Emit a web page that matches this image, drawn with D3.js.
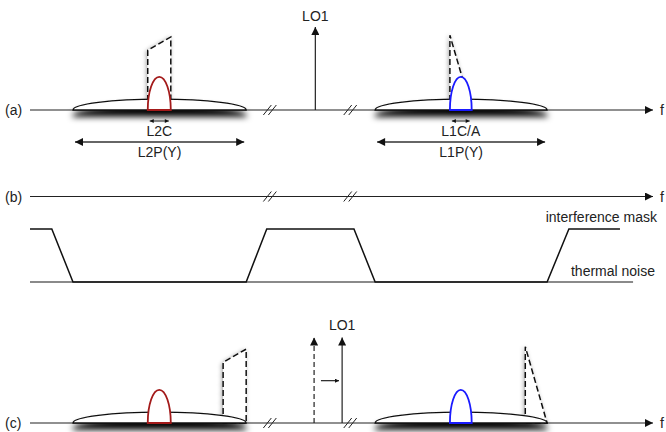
<!DOCTYPE html>
<html>
<head>
<meta charset="utf-8">
<script src="https://cdn.jsdelivr.net/npm/d3@7"></script>
<style>
  body { margin: 0; background: #fff; }
  text { font-family: "Liberation Sans", Arial, Helvetica, sans-serif; font-size: 14px; fill: #222; }
</style>
</head>
<body>
<svg width="666" height="432"></svg>
<script>
// frequency axis runs 0..100 (arbitrary units), amplitude 0..10 (LO1 = 10)
var panelLabels = ["(a)", "(b)", "(c)"];
var axisBreaks = [38.5, 51.4];

var bandNames = ["L2", "L1"];
var lobeStart = [6.9, 55.4];
var lobeEnd = [34.7, 83.0];
var lobeHeight = 1.3;
var wideLabels = ["L2P(Y)", "L1P(Y)"];

var codeStart = [18.9, 67.4];
var codeEnd = [22.6, 70.9];
var codeHeight = 4.0;
var codeLabels = ["L2C", "L1C/A"];
var codeColors = ["#a31a1a", "#1a1aff"];

// dashed interferers, [freq, amplitude] corners
var interfA = [
  [[18.9, 0], [18.9, 7.2], [22.6, 8.8], [22.6, 0]],
  [[67.4, 0], [67.4, 9.0], [70.9, 0]]
];
var interfC = [
  [[31.0, 0], [31.0, 7.3], [34.7, 8.9], [34.7, 0]],
  [[79.5, 0], [79.5, 9.2], [83.0, 0]]
];

var loFreqA = 45.8;
var loFreqC = [45.6, 50.1];   // old (dashed), shifted (solid)
var loHeight = [10, 10.3];
var shiftArrow = { from: 46.7, to: 49.6, amp: 5.1 };

// interference mask (level 1 = mask, 0 = thermal noise)
var maskFreq = [0, 3.5, 6.9, 34.7, 38.0, 52.0, 55.4, 83.0, 86.5, 94.7];
var maskLevel = [1, 1, 0, 0, 1, 1, 0, 0, 1, 1];
var noiseFreq = [0, 96.8];
var maskLabels = ["interference mask", "thermal noise"];

var svg = d3.select("svg");
var base = [110, 196.5, 423];

var x = d3.scaleLinear().domain([0, 100]).range([30, 653]);
var amp = d3.scaleLinear().domain([0, 10]).range([0, 83]);
var yMask = d3.scaleLinear().domain([0, 1]).range([282, 229]);

var defs = svg.append("defs");
function marker(id, w, h) {
  defs.append("marker").attr("id", id)
    .attr("viewBox", "0 0 10 10").attr("refX", 10).attr("refY", 5)
    .attr("markerWidth", w).attr("markerHeight", h)
    .attr("markerUnits", "userSpaceOnUse")
    .attr("orient", "auto-start-reverse")
    .append("path").attr("d", "M0,0L10,5L0,10Z").attr("fill", "#111");
}
marker("head", 11, 8);
marker("small", 5, 4);

var f = defs.append("filter").attr("id", "shadow")
  .attr("x", "-20%").attr("y", "-100%").attr("width", "140%").attr("height", "500%");
f.append("feDropShadow").attr("dx", 0).attr("dy", 6).attr("stdDeviation", 3)
  .attr("flood-color", "#000").attr("flood-opacity", 1);
var f2 = defs.append("filter").attr("id", "soft")
  .attr("x", "-50%").attr("y", "-20%").attr("width", "200%").attr("height", "140%");
f2.append("feDropShadow").attr("dx", -1).attr("dy", 1).attr("stdDeviation", 2)
  .attr("flood-color", "#000").attr("flood-opacity", 0.35);

// axes
base.forEach(function(b, i) {
  svg.append("line").attr("x1", x(0)).attr("x2", x(100))
    .attr("y1", b).attr("y2", b)
    .attr("stroke", "#222").attr("stroke-width", 1.2)
    .attr("marker-end", "url(#head)");
  svg.append("text").attr("x", 5).attr("y", b + 5).text(panelLabels[i]);
  svg.append("text").attr("x", 660).attr("y", b + 5).text("f");
  axisBreaks.forEach(function(bx) {
    [-2.5, 2.5].forEach(function(o) {
      svg.append("line")
        .attr("x1", x(bx) + o - 4).attr("y1", b + 5)
        .attr("x2", x(bx) + o + 4).attr("y2", b - 5)
        .attr("stroke", "#222").attr("stroke-width", 1);
    });
  });
});

function interfPath(pts, b) {
  return d3.line().x(function(d) { return x(d[0]); })
    .y(function(d) { return b - amp(d[1]); })(pts) + "Z";
}
function lobePath(i, b) {
  var rx = (x(lobeEnd[i]) - x(lobeStart[i])) / 2, ry = amp(lobeHeight);
  return "M" + x(lobeStart[i]) + "," + b + "A" + rx + "," + ry + " 0 0 1 " + x(lobeEnd[i]) + "," + b + "Z";
}
function codePath(i, b) {
  var rx = (x(codeEnd[i]) - x(codeStart[i])) / 2, ry = amp(codeHeight);
  return "M" + x(codeStart[i]) + "," + b + "A" + rx + "," + ry + " 0 0 1 " + x(codeEnd[i]) + "," + b + "Z";
}

function spectrum(b, interf) {
  interf.forEach(function(pts) {
    svg.append("path").attr("d", interfPath(pts, b))
      .attr("fill", "#fff").attr("stroke", "#111").attr("stroke-width", 1.5)
      .attr("stroke-dasharray", "6,3").attr("filter", "url(#soft)");
  });
  bandNames.forEach(function(n, i) {
    svg.append("path").attr("d", lobePath(i, b))
      .attr("fill", "#fff").attr("stroke", "#111").attr("stroke-width", 1.3)
      .attr("filter", "url(#shadow)");
    svg.append("path").attr("d", codePath(i, b))
      .attr("fill", "#fff").attr("stroke", codeColors[i]).attr("stroke-width", 1.8);
  });
}

// (a)
spectrum(base[0], interfA);
svg.append("line").attr("x1", x(loFreqA)).attr("x2", x(loFreqA))
  .attr("y1", base[0]).attr("y2", base[0] - amp(loHeight[0]))
  .attr("stroke", "#222").attr("stroke-width", 1.2).attr("marker-end", "url(#head)");
svg.append("text").attr("x", x(loFreqA)).attr("y", 21).attr("text-anchor", "middle").text("LO1");

bandNames.forEach(function(n, i) {
  svg.append("line").attr("x1", x(codeStart[i]) + 2).attr("x2", x(codeEnd[i]) - 2)
    .attr("y1", 121).attr("y2", 121).attr("stroke", "#222").attr("stroke-width", 1)
    .attr("marker-start", "url(#small)").attr("marker-end", "url(#small)");
  svg.append("text").attr("x", (x(codeStart[i]) + x(codeEnd[i])) / 2).attr("y", 136)
    .attr("text-anchor", "middle").text(codeLabels[i]);
  svg.append("line").attr("x1", x(lobeStart[i]) + 2).attr("x2", x(lobeEnd[i]) - 2)
    .attr("y1", 142).attr("y2", 142).attr("stroke", "#333").attr("stroke-width", 1.5)
    .attr("marker-start", "url(#head)").attr("marker-end", "url(#head)");
  svg.append("text").attr("x", (x(lobeStart[i]) + x(lobeEnd[i])) / 2).attr("y", 157)
    .attr("text-anchor", "middle").text(wideLabels[i]);
});

// (b)
svg.append("path")
  .attr("d", d3.line()([[x(noiseFreq[0]), yMask(0)], [x(noiseFreq[1]), yMask(0)]]))
  .attr("stroke", "#8a8a8a").attr("stroke-width", 2).attr("fill", "none");
svg.append("path")
  .attr("d", d3.line().x(function(d) { return x(d); })
    .y(function(d, i) { return yMask(maskLevel[i]); })(maskFreq))
  .attr("stroke", "#111").attr("stroke-width", 1.5).attr("fill", "none");
svg.append("text").attr("x", 657).attr("y", yMask(1) - 7).attr("text-anchor", "end").text(maskLabels[0]);
svg.append("text").attr("x", 655).attr("y", yMask(0) - 6).attr("text-anchor", "end").text(maskLabels[1]);

// (c)
spectrum(base[2], interfC);
loFreqC.forEach(function(fq, i) {
  svg.append("line").attr("x1", x(fq)).attr("x2", x(fq))
    .attr("y1", base[2]).attr("y2", base[2] - amp(loHeight[1]))
    .attr("stroke", "#222").attr("stroke-width", 1.2)
    .attr("stroke-dasharray", i === 0 ? "5,3" : null)
    .attr("marker-end", "url(#head)");
});
svg.append("text").attr("x", x(loFreqC[1])).attr("y", 330).attr("text-anchor", "middle").text("LO1");
svg.append("line").attr("x1", x(shiftArrow.from)).attr("x2", x(shiftArrow.to))
  .attr("y1", base[2] - amp(shiftArrow.amp)).attr("y2", base[2] - amp(shiftArrow.amp))
  .attr("stroke", "#222").attr("stroke-width", 1.2).attr("marker-end", "url(#small)");
</script>
</body>
</html>
